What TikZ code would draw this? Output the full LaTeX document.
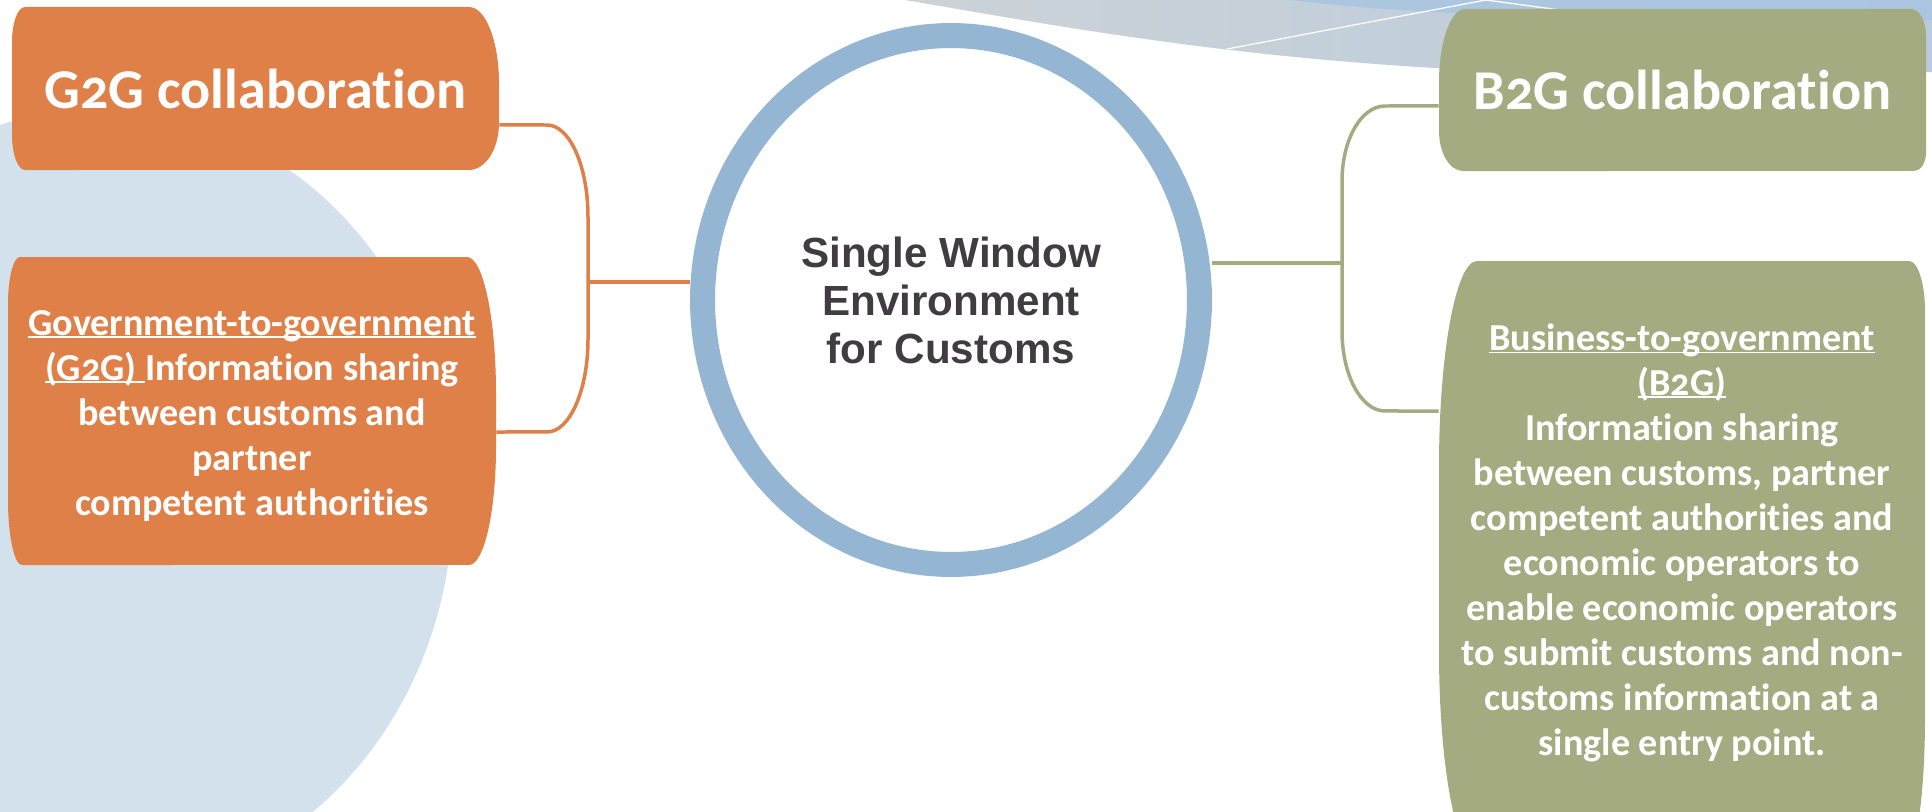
\documentclass[tikz,border=0pt]{standalone}
\usepackage{fontspec}
\setmainfont{Carlito}[Numbers=OldStyle, Ligatures=NoCommon]
\newfontfamily\arialfont{Liberation Sans}
\usetikzlibrary{shapes.geometric}
\definecolor{gorange}{HTML}{DE8048}
\definecolor{bgreen}{HTML}{A5AB81}
\definecolor{ringblue}{HTML}{94B6D2}
\definecolor{bgblue}{HTML}{D3E1EC}
\definecolor{bandgrey}{HTML}{CCD3D7}
\definecolor{bandblue}{HTML}{B8CBDD}
\definecolor{bandtop}{HTML}{A9C5E2}
\definecolor{cgrey}{HTML}{403D40}
\newcommand\ulx[1]{\setbox0\hbox{#1}\rlap{\rule[-0.06em]{\wd0}{0.04em}}\box0}
\begin{document}
\begin{tikzpicture}[x=0.02cm,y=-0.02cm,
  boxtext/.style={inner sep=0pt, align=center, text=white},
  headfont/.style={font=\fontsize{32}{38}\selectfont\bfseries},
  descfont/.style={font=\fontsize{21.7}{25.6}\selectfont\bfseries},
  oline/.style={draw=gorange, line width=0.07cm},
  gline/.style={draw=bgreen, line width=0.07cm},
  ring/.style={ellipse, draw=ringblue, line width=0.5cm, fill=white,
    minimum width=9.94cm, minimum height=10.58cm, inner sep=0pt,
    text=cgrey, align=center,
    font=\arialfont\bfseries\fontsize{24}{27.3}\selectfont}]
\useasboundingbox (0,0) rectangle (1932,811);
\clip (0,0) rectangle (1932,811);
\fill[white] (0,0) rectangle (1932,811);
% background shapes
\fill[bgblue] (100,500) ellipse[x radius=7.06cm, y radius=7.82cm];
\shade[left color=bandgrey, right color=bandblue]
  (905,0) .. controls (1150,42) and (1400,90) .. (1932,72) -- (1932,0) -- cycle;
\fill[bandtop, opacity=0.85]
  (1290,0) .. controls (1400,14) and (1600,22) .. (1932,20) -- (1932,0) -- cycle;
\draw[white, line width=0.025cm] (1227,49) -- (1486,0) -- (1560,10);
% box shapes
\fill[gorange] (25,7) -- (469,7)
  arc[start angle=90,end angle=0,x radius=0.6cm,y radius=1.52cm] -- (499,123)
  arc[start angle=0,end angle=-90,x radius=0.6cm,y radius=0.94cm] -- (25,170)
  arc[start angle=270,end angle=180,x radius=0.26cm,y radius=0.7cm] -- (12,42)
  arc[start angle=180,end angle=90,x radius=0.26cm,y radius=0.7cm] -- cycle;
\fill[gorange] (20,257) -- (467,257)
  arc[start angle=90,end angle=0,x radius=0.58cm,y radius=2.72cm] -- (496,447)
  arc[start angle=0,end angle=-90,x radius=0.54cm,y radius=2.36cm] -- (22,565)
  arc[start angle=270,end angle=180,x radius=0.28cm,y radius=1.3cm] -- (8,304)
  arc[start angle=180,end angle=90,x radius=0.24cm,y radius=0.94cm] -- cycle;
\fill[bgreen] (1465,9) -- (1911,9)
  arc[start angle=90,end angle=0,x radius=0.3cm,y radius=0.54cm] -- (1926,153)
  arc[start angle=0,end angle=-90,x radius=0.24cm,y radius=0.36cm] -- (1463,171)
  arc[start angle=270,end angle=180,x radius=0.48cm,y radius=0.8cm] -- (1439,82)
  arc[start angle=180,end angle=90,x radius=0.52cm,y radius=1.46cm] -- cycle;
\fill[bgreen] (1477,261) -- (1909,261)
  arc[start angle=90,end angle=0,x radius=0.32cm,y radius=1cm] -- (1925,717)
  arc[start angle=0,end angle=-90,x radius=0.4cm,y radius=2.8cm] -- (1477,857)
  arc[start angle=270,end angle=180,x radius=0.76cm,y radius=4.1cm] -- (1439,466)
  arc[start angle=180,end angle=90,x radius=0.76cm,y radius=4.1cm] -- cycle;
% nodes
\node[boxtext,headfont,minimum width=9.74cm,minimum height=3.26cm] (g2gh) at (255.5,88.5) {G2G collaboration};
\node[boxtext,descfont,minimum width=9.76cm,minimum height=6.16cm] (g2gd) at (252,416)
  {\ulx{Government-to-government}\\\ulx{(G2G)\ }Information sharing\\between customs and\\partner\\competent authorities};
\node[boxtext,headfont,minimum width=9.74cm,minimum height=3.24cm] (b2gh) at (1682.5,90) {B2G collaboration};
\node[boxtext,descfont,minimum width=9.72cm,minimum height=11.16cm] (b2gd) at (1682,543)
  {\ulx{Business-to-government}\\\ulx{(B2G)}\\Information sharing\\between customs, partner\\competent authorities and\\economic operators to\\enable economic operators\\to submit customs and non-\\customs information at a\\single entry point.};
\node[ring] (sw) at (951,300) {Single Window\\Environment\\for Customs};
% connectors
\draw[oline] ([yshift=-0.73cm]g2gh.east) -- (547,125)
  arc[start angle=90,end angle=0,x radius=0.82cm,y radius=1.84cm] -- (588,339)
  arc[start angle=0,end angle=-90,x radius=0.82cm,y radius=1.86cm] -- ([yshift=-0.32cm]g2gd.east);
\coordinate (oj) at (588,282);
\draw[oline] (oj) -- (sw.west |- oj);
\draw[gline] ([yshift=-0.32cm]b2gh.west) -- (1385,106)
  arc[start angle=90,end angle=180,x radius=0.86cm,y radius=1.5cm] -- (1342,331)
  arc[start angle=180,end angle=270,x radius=0.86cm,y radius=1.6cm] -- ([yshift=2.64cm]b2gd.west);
\coordinate (gj) at (1342,263);
\draw[gline] (sw.east |- gj) -- (gj);
\end{tikzpicture}
\end{document}
